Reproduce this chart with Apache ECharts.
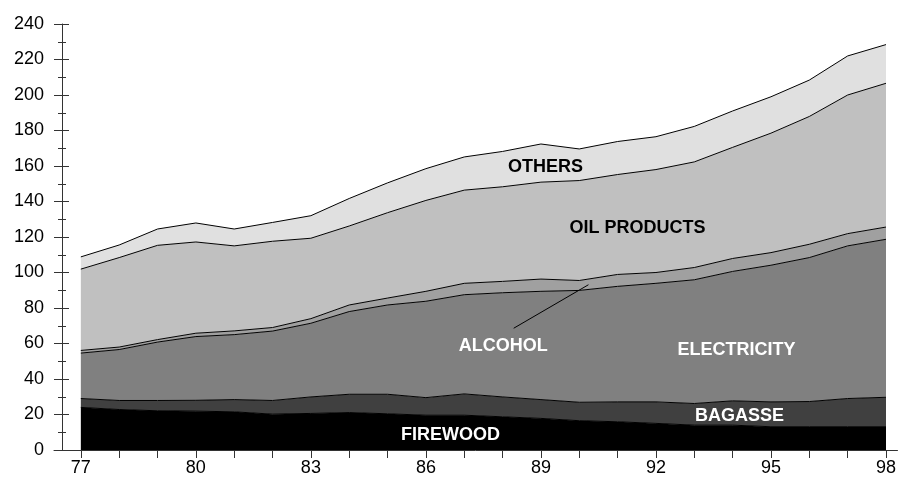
<!DOCTYPE html>
<html>
<head>
<meta charset="utf-8">
<script src="https://cdn.jsdelivr.net/npm/echarts@6/dist/echarts.min.js"></script>
<style>
html,body{margin:0;padding:0;background:#fff;}
#c{width:899px;height:477px;}
</style>
</head>
<body>
<div id="c"></div>
<script>
var years = [77,78,79,80,81,82,83,84,85,86,87,88,89,90,91,92,93,94,95,96,97,98];
var yearTickLabels = [77,80,83,86,89,92,95,98];

var firewood    = [24,22.8,22.1,21.9,21.5,20.2,20.6,21.1,20.4,19.6,19.6,18.7,17.8,16.5,15.9,15,14,14,13.1,13.1,13.1,13.1];
var bagasse     = [5,5.1,5.8,6.1,6.9,7.7,9.3,10.3,11,9.9,12,11.2,10.6,10.4,11.2,12.1,12.2,13.7,14,14.2,15.9,16.6];
var electricity = [25.6,28.7,32.9,35.9,36.6,39.1,41.5,46.6,50.3,54.3,55.9,58.7,61,63,65.1,66.8,69.7,72.9,77,81.1,86,89];
var alcohol     = [1.5,1.4,1.4,1.9,2.1,2,2.6,3.7,3.9,5.6,6.4,6.4,6.9,5.6,6.7,6.1,6.9,7.3,7.1,7.5,6.9,6.9];
var oilProducts = [45.8,50.4,53.1,51.4,47.9,48.6,45.3,44.5,48.1,51.2,52.5,53.3,54.6,56.3,56.3,58,59.5,62.6,67.3,72,78.1,81];
var others      = [6.9,7.1,9.2,10.7,9.5,10.6,12.7,15.5,16.8,17.9,18.7,19.9,21.5,17.8,18.6,18.5,20,20.5,20.5,20.5,22,21.8];

var seriesNames  = ['FIREWOOD','BAGASSE','ELECTRICITY','ALCOHOL','OIL PRODUCTS','OTHERS'];
var seriesData   = [firewood,bagasse,electricity,alcohol,oilProducts,others];
var seriesColors = ['#000000','#404040','#808080','#a0a0a0','#c0c0c0','#e0e0e0'];

// annotation labels: [text, year, value, color]
var annotations = [
  ['OTHERS', 89.12, 159.4, '#000000'],
  ['OIL PRODUCTS', 91.52, 125.3, '#000000'],
  ['ALCOHOL', 88.02, 58.5, '#ffffff'],
  ['ELECTRICITY', 94.1, 56.6, '#ffffff'],
  ['BAGASSE', 94.18, 19.3, '#ffffff'],
  ['FIREWOOD', 86.64, 8.2, '#ffffff']
];
var leader = [[88.29, 68.6],[90.24, 93.1]];

var FONT = 'Arial, "Liberation Sans", sans-serif';
var chart = echarts.init(document.getElementById('c'), null, {renderer:'canvas'});

var series = seriesNames.map(function(n,i){
  return {
    name:n, type:'line', stack:'total', symbol:'none', animation:false,
    dimensions:['v','year'],
    encode:{x:'year', y:'v'},
    data: years.map(function(y,j){ return [seriesData[i][j], y]; }),
    lineStyle:{color:'#000', width:1},
    areaStyle:{color:seriesColors[i], opacity:1},
    itemStyle:{color:seriesColors[i]},
    z: 2
  };
});

var axisColor = '#333';
chart.setOption({
  animation:false,
  grid:{left:54, right:1, top:24, bottom:21.5, containLabel:false},
  xAxis:{
    type:'value', min:76.3, max:98.3,
    axisLine:{show:true, lineStyle:{color:axisColor, width:1}},
    axisTick:{show:true, length:8, customValues:years, lineStyle:{color:axisColor}},
    axisLabel:{show:true, customValues:yearTickLabels, fontSize:18, color:'#000', fontFamily:FONT, margin:9},
    splitLine:{show:false}
  },
  yAxis:[{
    type:'value', min:0, max:240, interval:20, offset:-8,
    axisLine:{show:true, lineStyle:{color:axisColor, width:1}},
    axisTick:{show:true, length:8, lineStyle:{color:axisColor}},
    minorTick:{show:true, splitNumber:2, length:4, lineStyle:{color:axisColor}},
    axisLabel:{fontSize:18, color:'#000', fontFamily:FONT, margin:18},
    splitLine:{show:false}, minorSplitLine:{show:false}
  },{
    type:'value', min:0, max:240, interval:20, offset:-8, position:'left',
    axisLine:{show:false},
    axisTick:{show:true, inside:true, length:7, lineStyle:{color:axisColor}},
    minorTick:{show:true, splitNumber:2, length:4, lineStyle:{color:axisColor}},
    axisLabel:{show:false},
    splitLine:{show:false}
  }],
  series: series
});

function px(p){ return chart.convertToPixel({xAxisIndex:0, yAxisIndex:0}, p); }
var graphics = annotations.map(function(a){
  var p = px([a[1], a[2]]);
  return {type:'text', x:p[0], y:p[1], z:100,
    style:{text:a[0], fill:a[3], font:'bold 18px '+FONT, textAlign:'center', textVerticalAlign:'middle'}};
});
var l0 = px(leader[0]), l1 = px(leader[1]);
graphics.push({type:'line', z:100, shape:{x1:l0[0], y1:l0[1], x2:l1[0], y2:l1[1]}, style:{stroke:'#000', lineWidth:1}});
chart.setOption({graphic: graphics});
</script>
</body>
</html>
